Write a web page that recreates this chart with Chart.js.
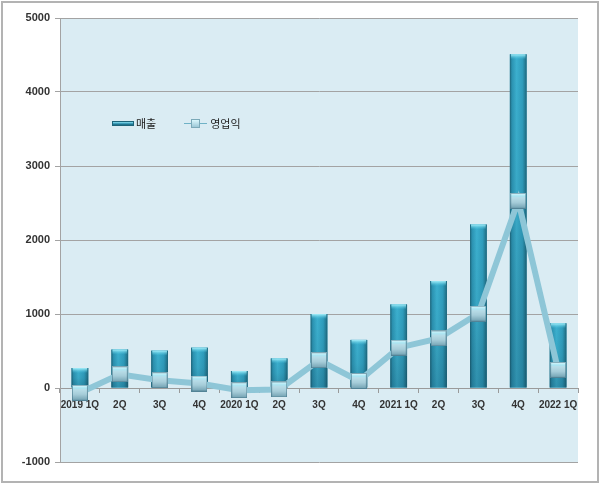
<!DOCTYPE html>
<html lang="ko">
<head>
  <meta charset="UTF-8" />
  <title>매출 / 영업익</title>
  <script src="https://cdn.jsdelivr.net/npm/chart.js"></script>
  <style>
    body {
      margin: 0;
      background: #fff;
    }
    .wrap {
      position: relative;
      width: 600px;
      height: 483px;
    }
    .frame {
      position: absolute;
      left: 1px;
      top: 1px;
      width: 594px;
      height: 478px;
      border: 2px solid #b3b3b3;
      pointer-events: none;
    }
    .legend {
      position: absolute;
      left: 112px;
      top: 115px;
      font-family: "Noto Sans CJK KR", sans-serif;
      font-size: 11px;
      color: #222;
      display: flex;
      align-items: center;
    }
    .legend span { display: inline-block; }
    .sw-bar {
      width: 22px;
      height: 5px;
      background: linear-gradient(#8fe3f2, #2b8fae 60%, #1d6479);
      border: 1px solid #1d6479;
      box-sizing: border-box;
      margin-right: 2px;
    }
    .sw-line {
      position: relative;
      width: 23px;
      height: 9px;
      margin-left: 28px;
      margin-right: 3px;
    }
    .sw-line::before {
      content: "";
      position: absolute;
      left: 0; right: 0; top: 4px;
      height: 1px;
      background: #6fb2c6;
    }
    .sw-line::after {
      content: "";
      position: absolute;
      left: 7px; top: 0;
      width: 9px; height: 9px;
      background: linear-gradient(#d9f6fc, #9cc8d6);
      border: 1px solid #7ba9b8;
      box-sizing: border-box;
    }
  </style>
</head>
<body>
  <div class="wrap">
    <canvas id="chart" width="600" height="483"></canvas>
    <div class="legend">
      <span class="sw-bar"></span><span>매출</span>
      <span class="sw-line"></span><span>영업익</span>
    </div>
    <div class="frame"></div>
  </div>

  <script>
    const quarters = ['2019 1Q', '2Q', '3Q', '4Q', '2020 1Q', '2Q', '3Q', '4Q', '2021 1Q', '2Q', '3Q', '4Q', '2022 1Q'];
    const sales = [270, 520, 505, 545, 230, 400, 1000, 650, 1130, 1445, 2210, 4510, 875];
    const opProfit = [-65, 185, 105, 60, -30, -20, 375, 95, 545, 670, 1005, 2530, 245];
    const yTicks = [-1000, 0, 1000, 2000, 3000, 4000, 5000];

    // square marker with a little glassy shading
    function makeMarker(size) {
      const c = document.createElement('canvas');
      c.width = size;
      c.height = size;
      const g = c.getContext('2d');
      const grad = g.createLinearGradient(0, 0, 0, size);
      grad.addColorStop(0, '#e9fbff');
      grad.addColorStop(0.2, '#a6e6f3');
      grad.addColorStop(0.3, '#b9dde8');
      grad.addColorStop(0.6, '#a6cdd9');
      grad.addColorStop(1, '#6f9fb0');
      g.fillStyle = grad;
      g.fillRect(0, 0, size, size);
      g.strokeStyle = 'rgba(60,110,130,0.6)';
      g.lineWidth = 1;
      g.strokeRect(0.5, 0.5, size - 1, size - 1);
      return c;
    }

    const plotBg = {
      id: 'plotBg',
      beforeDraw(chart) {
        const { ctx, chartArea: a } = chart;
        ctx.save();
        ctx.fillStyle = '#daecf3';
        ctx.fillRect(a.left, a.top, a.right - a.left, a.bottom - a.top);
        ctx.restore();
      }
    };

    // glassy shading on top of the library-drawn bars
    const barShade = {
      id: 'barShade',
      afterDatasetDraw(chart, args) {
        if (args.index !== 0) return;
        const ctx = chart.ctx;
        chart.getDatasetMeta(0).data.forEach(bar => {
          const left = bar.x - bar.width / 2;
          const top = Math.min(bar.y, bar.base);
          const h = Math.abs(bar.base - bar.y);
          ctx.save();
          const hg = ctx.createLinearGradient(left, 0, left + bar.width, 0);
          hg.addColorStop(0, '#1d6479');
          hg.addColorStop(0.12, '#2b93b2');
          hg.addColorStop(0.4, '#3cb0cf');
          hg.addColorStop(0.75, '#2f9dbd');
          hg.addColorStop(0.9, '#257f99');
          hg.addColorStop(1, '#1d6479');
          ctx.fillStyle = hg;
          ctx.fillRect(left, top, bar.width, h);
          const vg = ctx.createLinearGradient(0, top, 0, top + h);
          vg.addColorStop(0, 'rgba(0,0,0,0)');
          vg.addColorStop(0.5, 'rgba(0,0,0,0.05)');
          vg.addColorStop(1, 'rgba(0,20,40,0.2)');
          ctx.fillStyle = vg;
          ctx.fillRect(left, top, bar.width, h);
          // light cap on top
          const cg = ctx.createLinearGradient(0, top, 0, top + 5);
          cg.addColorStop(0, '#a8f0fb');
          cg.addColorStop(1, 'rgba(80,200,225,0)');
          ctx.fillStyle = cg;
          ctx.fillRect(left + 1, top, bar.width - 2, 5);
          ctx.restore();
        });
      }
    };

    new Chart(document.getElementById('chart'), {
      data: {
        labels: quarters,
        datasets: [
          {
            type: 'bar',
            label: '매출',
            data: sales,
            backgroundColor: '#2f9dbd',
            barPercentage: 0.42,
            categoryPercentage: 1,
            order: 1
          },
          {
            type: 'line',
            label: '영업익',
            data: opProfit,
            borderColor: '#8ec6d7',
            borderWidth: 6,
            tension: 0,
            pointStyle: makeMarker(16),
            pointRadius: 8,
            order: 0
          }
        ]
      },
      options: {
        responsive: false,
        animation: false,
        layout: { padding: { left: 0, right: 22, top: 18, bottom: 21 } },
        plugins: {
          legend: { display: false },
          tooltip: { enabled: false }
        },
        scales: {
          x: {
            position: { y: 0 },
            grid: {
              drawOnChartArea: false,
              drawTicks: true,
              tickLength: 4,
              color: '#9a9a9a',
              offset: true
            },
            border: { color: '#9a9a9a' },
            ticks: {
              autoSkip: false,
              maxRotation: 0,
              padding: 7,
              color: '#333',
              font: { family: 'Liberation Sans', size: 10, weight: 'bold' }
            }
          },
          y: {
            min: -1000,
            max: 5000,
            afterFit(scale) { scale.width = 60; },
            afterBuildTicks(scale) { scale.ticks = yTicks.map(v => ({ value: v })); },
            grid: { color: '#a3a3a3', tickLength: 5 },
            border: { color: '#a3a3a3' },
            ticks: {
              padding: 5,
              color: '#333',
              font: { family: 'Liberation Sans', size: 11, weight: 'bold' },
              callback: v => String(v)
            }
          }
        }
      },
      plugins: [plotBg, barShade]
    });
  </script>
</body>
</html>
